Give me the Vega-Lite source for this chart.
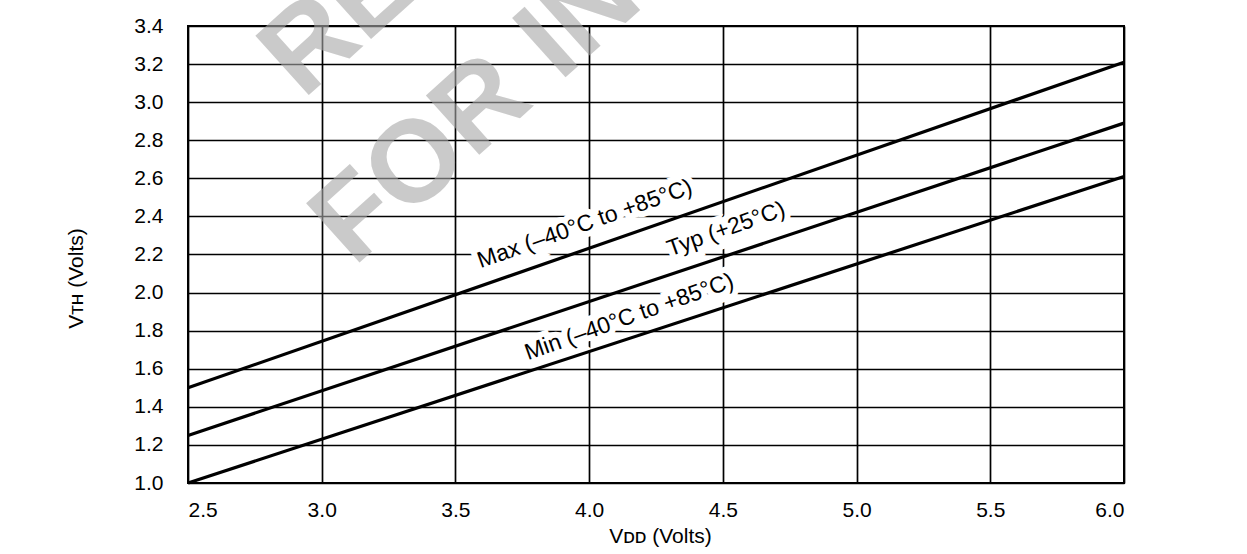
{
  "$schema": "https://vega.github.io/schema/vega-lite/v6.json",
  "width": 936,
  "height": 457,
  "autosize": {"type": "none"},
  "padding": {"left": 188, "top": 26, "right": 123, "bottom": 71},
  "background": "white",
  "config": {
    "view": {"stroke": "black", "strokeWidth": 2},
    "font": "Liberation Sans",
    "axis": {
      "grid": true,
      "gridColor": "black",
      "gridWidth": 1.7,
      "gridOpacity": 1,
      "domain": false,
      "ticks": false,
      "labelFont": "Liberation Sans",
      "labelFontSize": 21,
      "labelColor": "black",
      "labelOverlap": false,
      "titleFont": "Liberation Sans",
      "titleFontSize": 21,
      "titleFontWeight": "normal",
      "titleColor": "black"
    }
  },
  "datasets": {
    "curves": [
      {"series": "Max", "vdd": 2.5, "vth": 1.5},
      {"series": "Max", "vdd": 6.0, "vth": 3.21},
      {"series": "Typ", "vdd": 2.5, "vth": 1.25},
      {"series": "Typ", "vdd": 6.0, "vth": 2.89},
      {"series": "Min", "vdd": 2.5, "vth": 1.0},
      {"series": "Min", "vdd": 6.0, "vth": 2.61}
    ],
    "labels": [
      {"label": "Max (–40°C to +85°C)", "vdd": 3.984, "vth": 2.36},
      {"label": "Typ (+25°C)", "vdd": 4.512, "vth": 2.333},
      {"label": "Min (–40°C to +85°C)", "vdd": 4.15, "vth": 1.872}
    ],
    "watermark": [
      {"t": "REFERENCE", "vdd": 2.93, "vth": 3.01},
      {"t": "FOR INFORMATION", "vdd": 3.12, "vth": 2.13}
    ]
  },
  "encoding": {
    "x": {
      "field": "vdd",
      "type": "quantitative",
      "scale": {"domain": [2.5, 6.0], "nice": false, "zero": false},
      "axis": {
        "values": [2.5, 3.0, 3.5, 4.0, 4.5, 5.0, 5.5, 6.0],
        "format": ".1f",
        "labelPadding": 16,
        "title": "Vᴅᴅ (Volts)",
        "titleX": 472,
        "titleY": 59,
        "titleAlign": "center",
        "titleBaseline": "alphabetic"
      }
    },
    "y": {
      "field": "vth",
      "type": "quantitative",
      "scale": {"domain": [1.0, 3.4], "nice": false, "zero": false},
      "axis": {
        "values": [1.0, 1.2, 1.4, 1.6, 1.8, 2.0, 2.2, 2.4, 2.6, 2.8, 3.0, 3.2, 3.4],
        "format": ".1f",
        "labelPadding": 25,
        "title": "Vᴛʜ (Volts)",
        "titleX": -112,
        "titleY": 252,
        "titleAngle": -90,
        "titleAlign": "center",
        "titleBaseline": "middle"
      }
    }
  },
  "layer": [
    {
      "data": {"name": "watermark"},
      "mark": {"type": "text", "font": "Liberation Sans", "fontWeight": "bold", "fontSize": 116, "fill": "#a8a8a8", "opacity": 0.6, "angle": -42, "align": "left", "baseline": "alphabetic"},
      "encoding": {"text": {"field": "t"}}
    },
    {
      "data": {"name": "labels"},
      "mark": {"type": "text", "font": "Liberation Sans", "fontSize": 23, "angle": -19.5, "align": "center", "baseline": "middle", "fill": "white", "stroke": "white", "strokeWidth": 12},
      "encoding": {"text": {"field": "label"}}
    },
    {
      "data": {"name": "curves"},
      "mark": {"type": "line", "color": "black", "strokeWidth": 3.2},
      "encoding": {"detail": {"field": "series"}}
    },
    {
      "data": {"name": "labels"},
      "mark": {"type": "text", "font": "Liberation Sans", "fontSize": 23, "angle": -19.5, "align": "center", "baseline": "middle", "fill": "black"},
      "encoding": {"text": {"field": "label"}}
    },
    {
      "data": {"values": [{"frame": "left"}]},
      "mark": {"type": "rule", "color": "black", "strokeWidth": 3.5},
      "encoding": {
        "x": {"datum": 1.812, "type": "quantitative"},
        "y": {"datum": 3.505, "type": "quantitative"},
        "y2": {"datum": 0.0}
      }
    },
    {
      "data": {"values": [{"frame": "top"}]},
      "mark": {"type": "rule", "color": "black", "strokeWidth": 3.5},
      "encoding": {
        "x": {"datum": 1.812, "type": "quantitative"},
        "x2": {"datum": 7.0},
        "y": {"datum": 3.505, "type": "quantitative"}
      }
    }
  ]
}
